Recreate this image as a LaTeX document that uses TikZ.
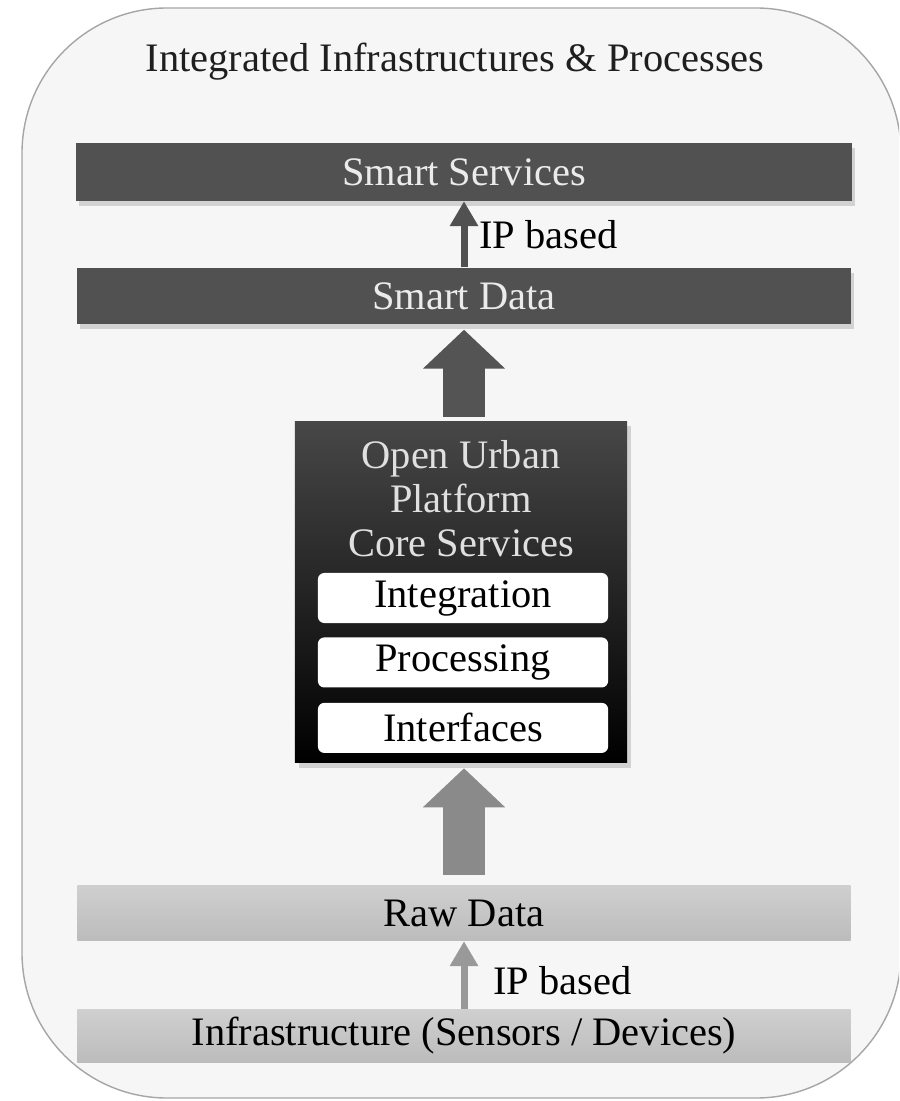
\documentclass[tikz,border=0pt]{standalone}
\usepackage{fontspec}
\setmainfont{Liberation Serif}
\usetikzlibrary{positioning, arrows.meta, shadows}
\definecolor{darkbar}{HTML}{515151}
\definecolor{lightbar}{HTML}{CACACA}
\definecolor{frame}{HTML}{F6F6F6}
\tikzset{
every node/.style = {font = \fontsize{11.5}{12.5}\selectfont},
darklayer/.style = {rectangle, fill = darkbar, text = white!92!black, minimum width = 7.75cm,
   minimum height = .57cm, inner sep = 0pt,
   drop shadow = {opacity = .3, shadow xshift = .3mm, shadow yshift = -.5mm}},
lightlayer/.style = {rectangle, top color = lightbar!90!white, bottom color = lightbar!93!black,
   text = black, minimum width = 7.73cm, minimum height = .55cm, inner sep = 0pt},
core/.style = {rectangle, top color = black!72, bottom color = black, minimum width = 3.32cm,
   minimum height = 3.41cm, inner sep = 0pt,
   drop shadow = {opacity = .3, shadow xshift = .4mm, shadow yshift = -.5mm}},
module/.style = {rectangle, rounded corners = 1.8pt, fill = white, text = black,
   minimum width = 2.9cm, minimum height = .5cm, inner sep = 0pt},
bigarrow/.style = {line width = .41cm, -{Triangle[length = .39cm, width = .8cm]}},
iparrow/.style = {line width = .07cm, -{Triangle[length = .25cm, width = .27cm]}}
}

\begin{document}
\begin{tikzpicture}[x = .01cm, y = -.01cm]
\useasboundingbox (0,0) rectangle (899,1101);

%% Frame
\begin{scope}
\clip (0,0) rectangle (899,1101);
\draw [fill = frame, draw = black!35, thin, rounded corners = 1.45cm] (22,8) rectangle (901,1098);
\end{scope}
\node [text = black!88] (title) at (455,62) {Integrated Infrastructures \& Processes};

%% Smart layers
\node [darklayer] (services) at (464,172) {Smart Services};
\node [darklayer, minimum width = 7.73cm, minimum height = .56cm] (smartdata) [below = .66cm of services] {Smart Data};

%% Open Urban Platform
\node [core] (platform) at (461,592) {};
\node [text = white!88!black, align = center, anchor = north] (coretitle) [below = .07cm of platform.north]
   {Open Urban\\Platform\\Core Services};
\node [module] (integration) at (463,598) {Integration};
\node [module] (processing) [below = .13cm of integration] {Processing};
\node [module] (interfaces) [below = .14cm of processing] {Interfaces};

%% Raw layers
\node [lightlayer] (rawdata) at (464,913) {Raw Data};
\node [lightlayer, minimum height = .52cm] (infra) [below = .68cm of rawdata] {Infrastructure (Sensors / Devices)};

%% Flows
\draw [bigarrow, black!67, shorten < = .04cm, shorten > = .05cm] (platform.north -| services) -- (smartdata.south -| services);
\draw [bigarrow, black!46, shorten < = .1cm, shorten > = .05cm] (rawdata.north -| services) -- (platform.south -| services);
\draw [iparrow, darkbar] (smartdata.north) -- node [right = 0pt, text = black] (ip1) {IP based} (services.south);
\draw [iparrow, black!40] (infra.north) -- node [right = 4pt, yshift = -1.5pt, text = black] (ip2) {IP based} (rawdata.south);

\end{tikzpicture}
\end{document}
